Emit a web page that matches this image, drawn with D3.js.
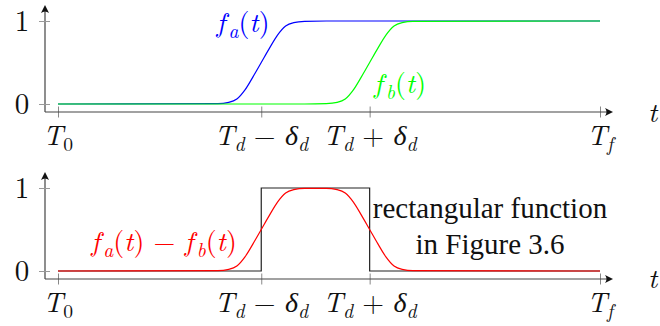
<!DOCTYPE html>
<html>
<head>
<meta charset="utf-8">
<script src="https://cdn.jsdelivr.net/npm/d3@7"></script>
<style>
  html, body { margin: 0; padding: 0; background: #fff; }
  svg { display: block; }
</style>
</head>
<body>
<svg id="chart" width="660" height="326"></svg>
<script>
// Sample times (T0 = 0, Tf = 10, Td - δd = 3.75, Td + δd = 5.75)
const tGrid = [0, 2.95, 3.15, 3.3, 3.45, 3.6, 3.75, 3.9, 4.05, 4.2, 4.35, 4.55,
               4.95, 5.15, 5.3, 5.45, 5.6, 5.75, 5.9, 6.05, 6.2, 6.35, 6.55, 10];
// f_a(t): smooth step centred at Td - δd
const fA = [0, 0.005, 0.02, 0.06, 0.17, 0.33, 0.5, 0.67, 0.83, 0.94, 0.98, 0.995,
            1, 1, 1, 1, 1, 1, 1, 1, 1, 1, 1, 1];
// f_b(t): smooth step centred at Td + δd
const fB = [0, 0, 0, 0, 0, 0, 0, 0, 0, 0, 0, 0,
            0.005, 0.02, 0.06, 0.17, 0.33, 0.5, 0.67, 0.83, 0.94, 0.98, 0.995, 1];
// Ideal rectangular window between Td - δd and Td + δd
const rectT = [0, 3.75, 3.75, 5.75, 5.75, 10];
const rectV = [0, 0, 1, 1, 0, 0];
// Axis ticks
const xTickValues = [0, 3.75, 5.75, 10];
const xTickLabels = [
  [["T", "i"], ["0", "sub"]],
  [["T", "i"], ["d", "subi"], [" \u2212 ", "r"], ["\u03B4", "i"], ["d", "subi"]],
  [["T", "i"], ["d", "subi"], [" + ", "r"], ["\u03B4", "i"], ["d", "subi"]],
  [["T", "i"], ["f", "subi"]]
];
const yTickValues = [0, 1];
const yTickLabels = ["0", "1"];

const svg = d3.select("#chart");
const FS = 28;
const MATH = "Latin Modern Roman";
const TEXT = "Liberation Serif";

// Writes a text element made of italic / upright / subscript pieces;
// "fi" is an italic f that gets a little extra room before what follows
function mathText(g, x, y, segs, anchor, color, size) {
  size = size || FS;
  const t = g.append("text")
    .attr("x", x).attr("y", y)
    .attr("text-anchor", anchor)
    .attr("fill", color)
    .attr("font-family", MATH)
    .attr("font-size", size);
  let shift = 0, pad = 0;
  const subShift = Math.round(size * 0.2);
  segs.forEach(([s, kind]) => {
    const ts = t.append("tspan").text(s);
    if (pad) ts.attr("dx", pad);
    pad = 0;
    if (kind === "sub" || kind === "subi") {
      ts.attr("dy", subShift - shift)
        .attr("font-size", size * 0.7)
        .attr("font-style", kind === "subi" ? "italic" : "normal");
      shift = subShift;
    } else {
      if (shift) ts.attr("dy", -shift);
      shift = 0;
      ts.attr("font-style", kind === "r" ? "normal" : "italic");
      if (kind === "fi") pad = size * 0.12;
    }
  });
  return t;
}

const x = d3.scaleLinear().domain([0, 10]).range([58, 600]);
const axisLeftX = 45, axisRightX = 613;

function arrowHead(g, tipX, tipY, dir) {
  const p = dir === "right"
    ? `M${tipX},${tipY} L${tipX - 8},${tipY - 4} Q${tipX - 5},${tipY} ${tipX - 8},${tipY + 4} Z`
    : `M${tipX},${tipY} L${tipX - 4},${tipY + 8} Q${tipX},${tipY + 5} ${tipX + 4},${tipY + 8} Z`;
  g.append("path").attr("d", p).attr("fill", "#111");
}

function panel(yZero, yOne, axisY, topY, tLabelY) {
  const y = d3.scaleLinear().domain([0, 1]).range([yZero, yOne]);
  const g = svg.append("g");

  // x axis with crossing ticks
  const xAxis = d3.axisBottom(x).tickValues(xTickValues).tickFormat("").tickSizeOuter(0);
  const ax = g.append("g").attr("transform", `translate(0,${axisY})`).call(xAxis);
  ax.select(".domain").remove();
  ax.selectAll(".tick line").attr("y1", -5.5).attr("y2", 5.5)
    .attr("stroke", "#888").attr("stroke-width", 1);
  g.append("line").attr("x1", axisLeftX).attr("x2", axisRightX - 3)
    .attr("y1", axisY).attr("y2", axisY)
    .attr("stroke", "#444").attr("stroke-width", 1.2);
  arrowHead(g, axisRightX, axisY, "right");

  // y axis
  g.append("line").attr("x1", axisLeftX).attr("x2", axisLeftX)
    .attr("y1", axisY).attr("y2", topY + 3)
    .attr("stroke", "#444").attr("stroke-width", 1.2);
  arrowHead(g, axisLeftX, topY, "up");
  const yAxis = d3.axisLeft(y).tickValues(yTickValues).tickFormat("").tickSizeOuter(0);
  const ay = g.append("g").attr("transform", `translate(${axisLeftX},0)`).call(yAxis);
  ay.select(".domain").remove();
  ay.selectAll(".tick line").attr("x1", -6).attr("x2", 5)
    .attr("stroke", "#999").attr("stroke-width", 1);

  yTickValues.forEach((v, i) => {
    g.append("text").attr("x", 22).attr("y", y(v) + 9.5)
      .attr("text-anchor", "middle")
      .attr("font-family", MATH).attr("font-size", 29)
      .attr("fill", "#111").text(yTickLabels[i]);
  });

  xTickValues.forEach((v, i) => {
    mathText(g, x(v), axisY + 33, xTickLabels[i], "middle", "#111");
  });

  mathText(g, 648, tLabelY, [["t", "i"]], "start", "#111");
  return { g, y };
}

const line = (y, xs, ys, curve) => d3.line()
  .x((d, i) => x(xs[i])).y((d, i) => y(ys[i])).curve(curve)(xs);

// Top panel: f_a and f_b
const upper = panel(104, 21, 112, 5, 122);
upper.g.append("path").attr("d", line(upper.y, tGrid, fA, d3.curveMonotoneX))
  .attr("fill", "none").attr("stroke", "#0000ff").attr("stroke-width", 1.2);
upper.g.append("path").attr("d", line(upper.y, tGrid, fB, d3.curveMonotoneX))
  .attr("fill", "none").attr("stroke", "#00ff00").attr("stroke-width", 1.2);
mathText(upper.g, 243, 32, [["f", "fi"], ["a", "subi"], ["(", "r"], ["t", "i"], [")", "r"]], "middle", "#0000ff");
mathText(upper.g, 400, 93, [["f", "fi"], ["b", "subi"], ["(", "r"], ["t", "i"], [")", "r"]], "middle", "#00ff00");

// Bottom panel: difference and the rectangular window
const lower = panel(271, 188, 279, 172, 288);
const diff = fA.map((v, i) => v - fB[i]);
lower.g.append("path").attr("d", line(lower.y, rectT, rectV, d3.curveLinear))
  .attr("fill", "none").attr("stroke", "#222").attr("stroke-width", 1.2);
lower.g.append("path").attr("d", line(lower.y, tGrid, diff, d3.curveMonotoneX))
  .attr("fill", "none").attr("stroke", "#ff0000").attr("stroke-width", 1.2);
mathText(lower.g, 164, 251,
  [["f", "fi"], ["a", "subi"], ["(", "r"], ["t", "i"], [")", "r"], [" \u2212 ", "r"],
   ["f", "fi"], ["b", "subi"], ["(", "r"], ["t", "i"], [")", "r"]], "middle", "#ff0000");

const note = lower.g.append("text").attr("text-anchor", "middle")
  .attr("font-family", TEXT).attr("font-size", 29).attr("fill", "#111");
note.append("tspan").attr("x", 490).attr("y", 218).text("rectangular function");
note.append("tspan").attr("x", 490).attr("y", 254).text("in Figure 3.6");
</script>
</body>
</html>
